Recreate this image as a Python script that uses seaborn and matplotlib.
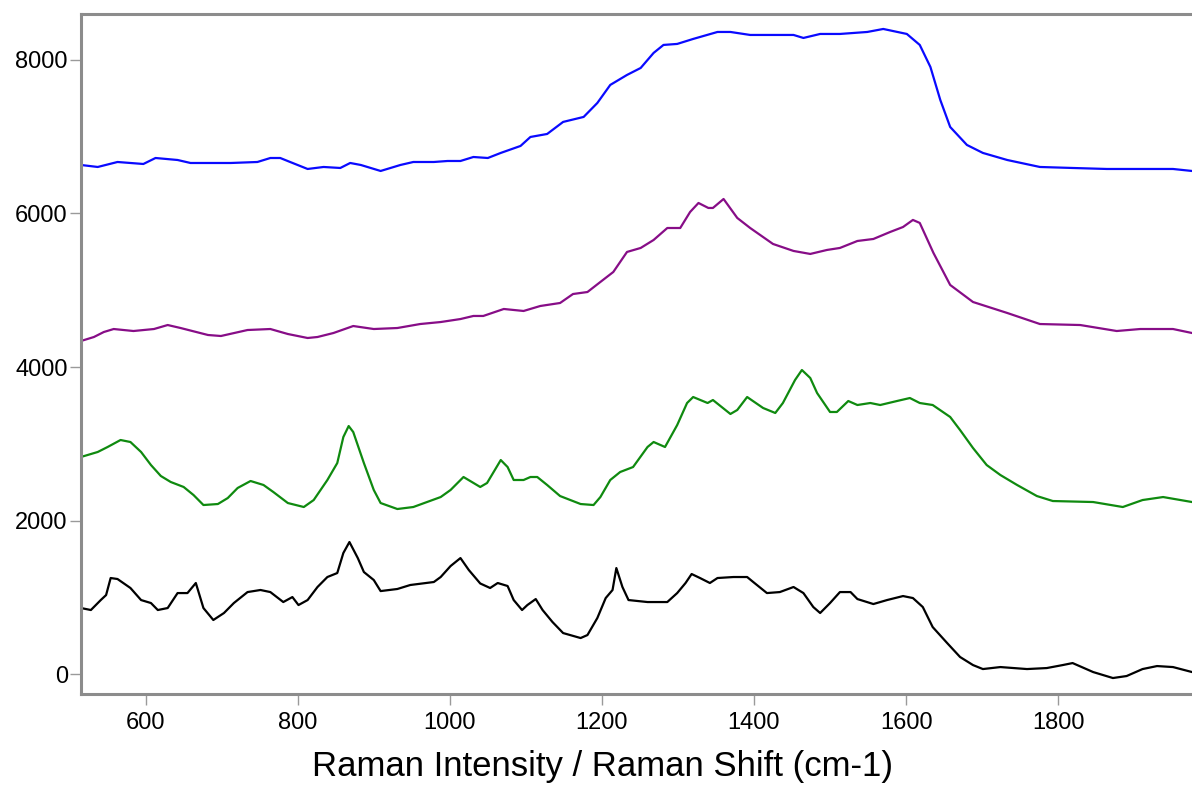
import matplotlib
matplotlib.use("Agg")
import matplotlib.pyplot as plt
import seaborn as sns
import pandas as pd

# ---- data ----
blue_x = [515, 537, 563, 597, 613, 642, 659, 712, 747, 764, 777, 790, 813, 834, 856, 869, 883, 909, 935, 952,
          979, 997, 1014, 1031, 1050, 1067, 1093, 1106, 1128, 1149, 1176, 1194, 1211, 1233, 1251, 1268, 1281,
          1299, 1320, 1352, 1369, 1395, 1452, 1465, 1487, 1513, 1549, 1570, 1601, 1618, 1632, 1645, 1658, 1680,
          1701, 1733, 1776, 1819, 1864, 1951, 1976]
blue_y = [6632, 6606, 6671, 6645, 6723, 6697, 6658, 6658, 6671, 6723, 6723, 6671, 6580, 6606, 6593, 6658, 6632,
          6554, 6632, 6671, 6671, 6684, 6684, 6736, 6723, 6789, 6880, 6997, 7036, 7193, 7258, 7440, 7675, 7805,
          7896, 8092, 8196, 8209, 8274, 8365, 8365, 8326, 8326, 8287, 8339, 8339, 8365, 8404, 8339, 8196, 7909,
          7479, 7127, 6893, 6789, 6697, 6606, 6593, 6580, 6580, 6554]

purple_x = [515, 532, 545, 558, 584, 611, 629, 646, 682, 699, 734, 764, 787, 813, 826, 847, 873, 900, 931, 961,
            988, 1014, 1031, 1044, 1071, 1097, 1119, 1145, 1162, 1181, 1198, 1215, 1233, 1251, 1268, 1286, 1303,
            1316, 1327, 1340, 1346, 1360, 1378, 1395, 1425, 1452, 1474, 1496, 1513, 1536, 1557, 1579, 1596, 1609,
            1618, 1636, 1658, 1688, 1733, 1776, 1829, 1877, 1908, 1951, 1976]
purple_y = [4339, 4391, 4456, 4495, 4469, 4495, 4547, 4508, 4417, 4404, 4482, 4495, 4430, 4378, 4391, 4443, 4534,
            4495, 4508, 4560, 4586, 4625, 4665, 4665, 4756, 4730, 4795, 4834, 4951, 4977, 5108, 5238, 5499, 5551,
            5655, 5811, 5811, 6020, 6137, 6072, 6072, 6189, 5942, 5811, 5603, 5512, 5473, 5525, 5551, 5642, 5668,
            5759, 5824, 5916, 5877, 5486, 5069, 4847, 4704, 4560, 4547, 4469, 4495, 4495, 4443]

green_x = [515, 537, 550, 567, 580, 594, 607, 620, 633, 650, 663, 676, 695, 708, 721, 738, 755, 768, 787, 808,
           821, 839, 852, 860, 867, 873, 887, 900, 909, 931, 952, 988, 1001, 1018, 1040, 1049, 1067, 1076, 1084,
           1097, 1106, 1115, 1128, 1145, 1172, 1189, 1198, 1211, 1224, 1241, 1260, 1268, 1283, 1299, 1312, 1320,
           1339, 1346, 1369, 1378, 1391, 1412, 1428, 1438, 1454, 1463, 1474, 1483, 1500, 1509, 1524, 1536, 1553,
           1566, 1588, 1605, 1618, 1635, 1658, 1671, 1688, 1706, 1724, 1746, 1772, 1793, 1846, 1885, 1911, 1938,
           1976]
green_y = [2828, 2893, 2958, 3049, 3023, 2893, 2723, 2580, 2502, 2437, 2332, 2202, 2215, 2293, 2424, 2515, 2463,
           2371, 2228, 2176, 2267, 2528, 2749, 3088, 3231, 3153, 2749, 2398, 2228, 2150, 2176, 2306, 2398, 2567,
           2437, 2489, 2788, 2697, 2528, 2528, 2567, 2567, 2463, 2319, 2215, 2202, 2306, 2528, 2632, 2697, 2958,
           3023, 2958, 3244, 3531, 3609, 3531, 3570, 3388, 3440, 3609, 3466, 3401, 3531, 3831, 3961, 3857, 3661,
           3414, 3414, 3557, 3505, 3531, 3505, 3557, 3596, 3531, 3505, 3349, 3179, 2945, 2723, 2593, 2463, 2319,
           2254, 2241, 2176, 2267, 2306, 2241]

black_x = [515, 528, 541, 548, 554, 563, 580, 594, 607, 616, 629, 642, 655, 666, 676, 689, 703, 716, 734, 751,
           764, 781, 793, 801, 813, 826, 839, 852, 860, 868, 879, 887, 900, 909, 931, 948, 979, 988, 1001, 1014,
           1025, 1040, 1053, 1063, 1076, 1084, 1095, 1102, 1113, 1122, 1135, 1149, 1172, 1181, 1194, 1205, 1214,
           1219, 1227, 1235, 1260, 1286, 1299, 1310, 1318, 1329, 1342, 1352, 1373, 1391, 1399, 1417, 1434, 1452,
           1465, 1478, 1487, 1500, 1513, 1527, 1536, 1557, 1575, 1596, 1609, 1622, 1635, 1654, 1671, 1688, 1701,
           1724, 1759, 1785, 1806, 1819, 1846, 1872, 1890, 1911, 1930, 1951, 1976]
black_y = [860, 834, 964, 1029, 1251, 1238, 1121, 964, 925, 834, 860, 1055, 1055, 1186, 860, 704, 795, 925, 1068,
           1095, 1068, 938, 1003, 899, 964, 1134, 1264, 1316, 1577, 1720, 1511, 1329, 1225, 1081, 1108, 1160, 1199,
           1264, 1407, 1511, 1355, 1180, 1121, 1186, 1147, 964, 834, 899, 977, 834, 678, 534, 469, 508, 730, 990,
           1095, 1381, 1134, 964, 938, 938, 1055, 1186, 1303, 1251, 1186, 1251, 1264, 1264, 1199, 1055, 1068, 1134,
           1055, 873, 795, 925, 1068, 1068, 977, 912, 964, 1016, 990, 873, 612, 404, 222, 117, 65, 91, 65, 78, 117,
           143, 26, -52, -26, 65, 104, 91, 26]

x_ticks = [600, 800, 1000, 1200, 1400, 1600, 1800]
y_ticks = [0, 2000, 4000, 6000, 8000]
x_label = "Raman Intensity / Raman Shift (cm-1)"

# ---- plot ----
sns.set_style("white")
plt.rcParams['font.family'] = ['Liberation Sans', 'DejaVu Sans']

fig = plt.figure(figsize=(11.92, 7.86), dpi=100)
ax = fig.add_axes([81 / 1192, 1 - 694 / 786, 1 - 81 / 1192, (694 - 14) / 786])

series = [
    (black_x, black_y, "black"),
    (green_x, green_y, "#0f8a0f"),
    (purple_x, purple_y, "#870d87"),
    (blue_x, blue_y, "#0a0aff"),
]
for xs, ys, col in series:
    df = pd.DataFrame({"x": xs, "y": ys})
    sns.lineplot(data=df, x="x", y="y", color=col, linewidth=1.6, ax=ax, sort=False)

ax.set_xlim(515, 1976)
ax.set_ylim(-260, 8599)
ax.set_xticks(x_ticks)
ax.set_yticks(y_ticks)
ax.set_ylabel("")
ax.set_xlabel(x_label, fontsize=25, color="black")
ax.xaxis.set_label_coords((603 - 81) / 1111, -0.083)

for side in ["left", "bottom", "top"]:
    ax.spines[side].set_color("#8c8c8c")
    ax.spines[side].set_linewidth(2.2)
ax.spines["right"].set_visible(False)

ax.tick_params(axis="both", which="major", direction="out", length=8, width=1,
               color="#9a9a9a", labelsize=17, labelcolor="black",
               bottom=True, left=True)
ax.tick_params(axis="x", pad=5)
ax.tick_params(axis="y", pad=1.5)

fig.savefig("out.png", dpi=100)
